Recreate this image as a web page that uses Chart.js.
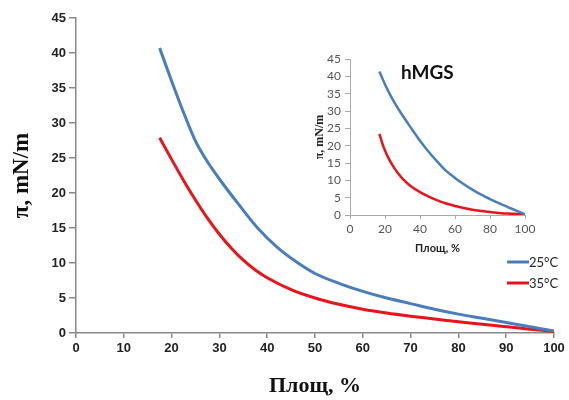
<!DOCTYPE html>
<html>
<head>
<meta charset="utf-8">
<script src="https://cdn.jsdelivr.net/npm/chart.js@4/dist/chart.umd.min.js"></script>
<style>
  html, body { margin: 0; padding: 0; background: #fff; }
  #wrap { position: relative; width: 569px; height: 400px; }
  #main { position: absolute; left: 0; top: 0; }
  #inset { position: absolute; left: 300px; top: 40px; }
</style>
</head>
<body>
<div id="wrap">
  <canvas id="main" width="569" height="400"></canvas>
  <canvas id="inset" width="250" height="225"></canvas>
</div>
<script>
// ---- Main chart data ----
const seriesLabels = ['25°C', '35°C'];
const mainBlueX = [17.5, 20, 22.5, 25, 27, 30, 34, 38, 42, 46, 50, 55, 60, 65, 70, 75, 80, 85, 90, 95, 100];
const mainBlueY = [40.7, 36.0, 31.5, 27.4, 25.0, 22.0, 18.4, 15.0, 12.3, 10.2, 8.5, 7.1, 5.95, 5.0, 4.2, 3.4, 2.7, 2.1, 1.5, 0.9, 0.3];
const mainRedX = [17.5, 20, 22.5, 25, 27.5, 30, 32.5, 35, 37.5, 40, 45, 50, 55, 60, 65, 70, 75, 80, 85, 90, 95, 100];
const mainRedY = [27.9, 24.8, 21.8, 19.0, 16.4, 14.1, 12.1, 10.4, 9.0, 7.9, 6.2, 5.0, 4.1, 3.4, 2.85, 2.4, 2.0, 1.6, 1.25, 0.9, 0.55, 0.2];

// ---- Inset (hMGS) data ----
const insetTitle = 'hMGS';
const insetBlueX = [16.8, 19, 22, 25, 28, 31.5, 35.2, 40, 44.8, 50, 54.3, 60, 63.8, 70, 73.3, 80, 86, 92.4, 100];
const insetBlueY = [41.4, 38.8, 35.6, 32.8, 30.3, 27.6, 24.9, 21.4, 18.3, 15.3, 13.0, 10.7, 9.3, 7.3, 6.3, 4.6, 3.2, 1.8, 0.2];
const insetRedX = [16.8, 18.5, 20, 22, 24, 27, 30, 35, 40, 45, 50, 55, 60, 65, 70, 75, 80, 85, 90, 100];
const insetRedY = [23.4, 20.6, 18.6, 16.4, 14.6, 12.3, 10.5, 8.2, 6.6, 5.3, 4.2, 3.3, 2.6, 2.0, 1.5, 1.15, 0.85, 0.6, 0.4, 0.2];

// ---- Axis text ----
const yTitle = 'π, mN/m';
const xTitle = 'Площ, %';

const BLUE = '#4a7ebb';
const RED = '#e8141b';

function pts(xs, ys) { return xs.map((x, i) => ({ x: x, y: ys[i] })); }

const legendPlugin = {
  id: 'customLegend',
  afterDraw(chart) {
    const ctx = chart.ctx;
    ctx.save();
    chart.data.datasets.forEach((ds, i) => {
      const y = 262 + i * 21;
      ctx.strokeStyle = ds.borderColor;
      ctx.lineWidth = 3;
      ctx.beginPath();
      ctx.moveTo(507, y);
      ctx.lineTo(529, y);
      ctx.stroke();
      ctx.fillStyle = '#222';
      ctx.font = '13px Lato';
      ctx.textAlign = 'left';
      ctx.textBaseline = 'middle';
      ctx.fillText(ds.label, 529, y + 1);
    });
    ctx.restore();
  }
};

new Chart(document.getElementById('main'), {
  type: 'line',
  data: {
    datasets: [
      { label: seriesLabels[0], data: pts(mainBlueX, mainBlueY), borderColor: BLUE, borderWidth: 3, pointRadius: 0, cubicInterpolationMode: 'monotone', fill: false },
      { label: seriesLabels[1], data: pts(mainRedX, mainRedY), borderColor: RED, borderWidth: 3, pointRadius: 0, cubicInterpolationMode: 'monotone', fill: false }
    ]
  },
  options: {
    responsive: false,
    animation: false,
    layout: { padding: { top: 18, right: 15, left: 0, bottom: 0 } },
    plugins: { legend: { display: false }, tooltip: { enabled: false } },
    scales: {
      x: {
        type: 'linear', min: 0, max: 100,
        ticks: { stepSize: 10, autoSkip: false, color: '#222', font: { family: 'Liberation Sans', size: 13, weight: 'bold' }, padding: 3, maxRotation: 0 },
        grid: { display: true, drawOnChartArea: false, drawTicks: true, tickLength: 5, color: '#888', lineWidth: 1.5 },
        border: { color: '#888', width: 1.5 },
        title: { display: true, text: xTitle, color: '#111', font: { family: 'Liberation Serif', size: 22, weight: 'bold' }, padding: { top: 0, bottom: 0 } },
        afterFit(s) { s.height = 67; }
      },
      y: {
        type: 'linear', min: 0, max: 45,
        ticks: { stepSize: 5, autoSkip: false, color: '#222', font: { family: 'Liberation Sans', size: 13, weight: 'bold' }, padding: 3 },
        grid: { display: true, drawOnChartArea: false, drawTicks: true, tickLength: 7, color: '#888', lineWidth: 1.5 },
        border: { color: '#888', width: 1.5 },
        title: { display: true, text: yTitle, color: '#111', font: { family: 'Liberation Serif', size: 23, weight: 'bold' }, padding: { top: 8, bottom: 0 } },
        afterFit(s) { s.width = 76; }
      }
    }
  },
  plugins: [legendPlugin]
});

const titlePlugin = {
  id: 'insetTitle',
  afterDraw(chart) {
    const ctx = chart.ctx;
    ctx.save();
    ctx.fillStyle = '#111';
    ctx.font = 'bold 19px Lato';
    ctx.textAlign = 'left';
    ctx.textBaseline = 'middle';
    ctx.fillText(insetTitle, 101, 33);
    ctx.restore();
  }
};

new Chart(document.getElementById('inset'), {
  type: 'line',
  data: {
    datasets: [
      { label: seriesLabels[0], data: pts(insetBlueX, insetBlueY), borderColor: BLUE, borderWidth: 2.5, pointRadius: 0, cubicInterpolationMode: 'monotone', fill: false },
      { label: seriesLabels[1], data: pts(insetRedX, insetRedY), borderColor: RED, borderWidth: 2.5, pointRadius: 0, cubicInterpolationMode: 'monotone', fill: false }
    ]
  },
  options: {
    responsive: false,
    animation: false,
    layout: { padding: { top: 19, right: 25, left: 0, bottom: 0 } },
    plugins: { legend: { display: false }, tooltip: { enabled: false } },
    scales: {
      x: {
        type: 'linear', min: 0, max: 100,
        ticks: { stepSize: 20, autoSkip: false, color: '#555', font: { family: 'Lato', size: 12 }, padding: 3, maxRotation: 0 },
        grid: { display: true, drawOnChartArea: false, drawTicks: true, tickLength: 4, color: '#aaa', lineWidth: 1 },
        border: { color: '#aaa', width: 1 },
        title: { display: true, text: xTitle, color: '#222', font: { family: 'Lato', size: 11, weight: 'bold' }, padding: { top: 0, bottom: 10 } },
        afterFit(s) { s.height = 50; }
      },
      y: {
        type: 'linear', min: 0, max: 45,
        ticks: { stepSize: 5, autoSkip: false, color: '#555', font: { family: 'Lato', size: 12 }, padding: 4 },
        grid: { display: true, drawOnChartArea: false, drawTicks: true, tickLength: 5, color: '#aaa', lineWidth: 1 },
        border: { color: '#aaa', width: 1 },
        title: { display: true, text: yTitle, color: '#222', font: { family: 'Liberation Serif', size: 12, weight: 'bold' }, padding: { top: 13, bottom: 0 } },
        afterFit(s) { s.width = 50; }
      }
    }
  },
  plugins: [titlePlugin]
});
</script>
</body>
</html>
